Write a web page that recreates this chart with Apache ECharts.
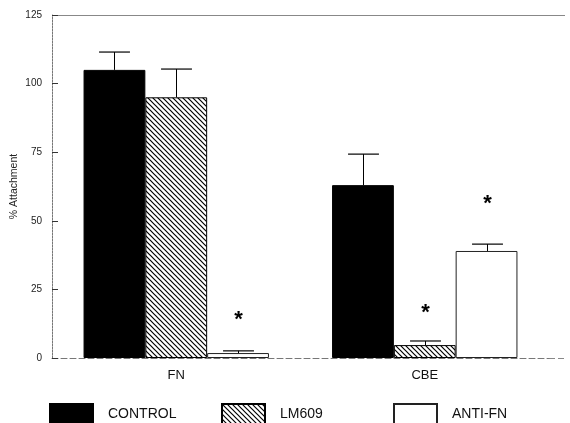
<!DOCTYPE html>
<html><head><meta charset="utf-8">
<script src="https://cdn.jsdelivr.net/npm/echarts@6/dist/echarts.min.js"></script>
<style>html,body{margin:0;padding:0;background:#fff}#c{width:570px;height:423px}</style>
</head><body><div id="c"></div>
<script>
const categories = ['FN', 'CBE'];
const seriesNames = ['CONTROL', 'LM609', 'ANTI-FN'];
const controlMean = [105, 63];
const controlErr = [111.5, 74.3];
const lm609Mean = [95, 4.7];
const lm609Err = [105.3, 6.2];
const antiMean = [1.8, 39];
const antiErr = [2.6, 41.5];
const starLM609 = [null, 16.5];
const starAnti = [13.8, 56];
const yTicks = [0, 25, 50, 75, 100, 125];

function hatch() {
  const c = document.createElement('canvas');
  c.width = 5; c.height = 5;
  const x = c.getContext('2d');
  x.fillStyle = '#fff'; x.fillRect(0, 0, 5, 5);
  x.strokeStyle = '#000'; x.lineWidth = 1.2;
  x.beginPath();
  x.moveTo(-1, -1); x.lineTo(6, 6);
  x.moveTo(-1, 4); x.lineTo(1, 6);
  x.moveTo(4, -1); x.lineTo(6, 1);
  x.stroke();
  return c;
}

const GAP = 0.254;
const errData = [];
const means = [controlMean, lm609Mean, antiMean];
const errs = [controlErr, lm609Err, antiErr];
const stars = [[null, null], starLM609, starAnti];
for (let g = 0; g < 3; g++) {
  for (let c = 0; c < categories.length; c++) {
    errData.push([c, g, means[g][c], errs[g][c], stars[g][c] == null ? -1 : stars[g][c]]);
  }
}

const chart = echarts.init(document.getElementById('c'));
const font = 'Liberation Sans, Arial, sans-serif';
const pattern = { image: hatch(), repeat: 'repeat' };
const legendText = { fontSize: 14, color: '#111', fontFamily: font, padding: [0, 0, 0, 10] };

chart.setOption({
  animation: false,
  backgroundColor: '#fff',
  textStyle: { fontFamily: font },
  grid: { left: 52, right: 21, top: 15, bottom: 65, containLabel: false, outerBoundsMode: 'none' },
  legend: [
    { data: ['CONTROL'], left: 49, top: 403, padding: 0, itemWidth: 43, itemHeight: 20, icon: 'rect', textStyle: legendText },
    { data: ['LM609'], left: 221, top: 403, padding: 0, itemWidth: 43, itemHeight: 20, icon: 'rect', textStyle: legendText },
    { data: ['ANTI-FN'], left: 393, top: 403, padding: 0, itemWidth: 43, itemHeight: 20, icon: 'rect', textStyle: legendText }
  ],
  xAxis: {
    type: 'category', data: categories,
    axisLine: { lineStyle: { color: '#777', width: 1, type: [6, 3] } },
    axisTick: { show: false },
    axisLabel: { fontSize: 13, color: '#111', margin: 11 }
  },
  yAxis: {
    type: 'value', min: 0, max: 125, interval: 25,
    name: '% Attachment', nameLocation: 'middle', nameGap: 32, nameRotate: 90, nameMoveOverlap: false,
    nameTextStyle: { fontSize: 10.5, color: '#222' },
    axisLine: { show: true, lineStyle: { color: '#777', width: 1, type: [2, 1] } },
    axisTick: { show: true, inside: true, length: 6, lineStyle: { color: '#333' } },
    axisLabel: { fontSize: 10, color: '#222', margin: 10, formatter: v => yTicks.includes(v) ? String(v) : '' },
    splitLine: { show: false }
  },
  graphic: [
    { type: 'line', shape: { x1: 52, y1: 15.5, x2: 565, y2: 15.5 }, style: { stroke: '#888', lineWidth: 1.2 }, silent: true },
    { type: 'line', shape: { x1: 549, y1: 358.5, x2: 565, y2: 358.5 }, style: { stroke: '#888', lineWidth: 1, lineDash: [6, 3] }, silent: true }
  ],
  series: [
    { name: 'CONTROL', type: 'bar', data: controlMean, barGap: '0%', barCategoryGap: (GAP * 100) + '%',
      itemStyle: { color: '#000', borderColor: '#000', borderWidth: 1 } },
    { name: 'LM609', type: 'bar', data: lm609Mean, barGap: '0%', barCategoryGap: (GAP * 100) + '%',
      itemStyle: { color: pattern, borderColor: '#000', borderWidth: 1 } },
    { name: 'ANTI-FN', type: 'bar', data: antiMean, barGap: '0%', barCategoryGap: (GAP * 100) + '%',
      itemStyle: { color: '#fff', borderColor: '#222', borderWidth: 1 } },
    { type: 'custom', data: errData, z: 5, encode: { x: 0, y: 3 },
      renderItem: function (params, api) {
        const cat = api.value(0), g = api.value(1), m = api.value(2), e = api.value(3), s = api.value(4);
        const band = api.size([1, 0])[0];
        const bw = band * (1 - GAP) / 3;
        const off = (g - 1) * bw;
        const b = api.coord([cat, m]);
        const t = api.coord([cat, e]);
        const x = Math.round(b[0] + off) + 0.5;
        const cw = bw * 0.5;
        const ch = [
          { type: 'line', shape: { x1: x, y1: b[1], x2: x, y2: t[1] }, style: { stroke: '#000', lineWidth: 1 } },
          { type: 'line', shape: { x1: x - cw / 2, y1: t[1], x2: x + cw / 2, y2: t[1] }, style: { stroke: '#000', lineWidth: 1.2 } }
        ];
        if (s >= 0) {
          const p = api.coord([cat, s]);
          ch.push({ type: 'text', style: { x: x, y: p[1], text: '*', fontSize: 22, fontWeight: 'bold', fontFamily: font,
            fill: '#000', align: 'center', verticalAlign: 'middle' } });
        }
        return { type: 'group', children: ch };
      }
    }
  ]
});
</script></body></html>
